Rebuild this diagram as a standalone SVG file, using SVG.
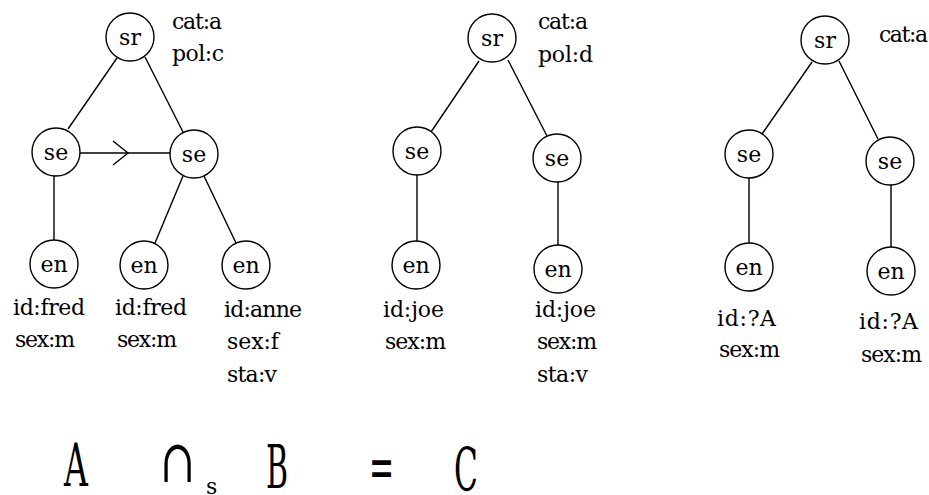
<svg xmlns="http://www.w3.org/2000/svg" width="929" height="495" viewBox="0 0 929 495">
<style>
.n{fill:#fff;stroke:#000;stroke-width:1.4}
.t{font-family:'DejaVu Serif','Liberation Serif',serif;font-size:22px;fill:#000}
.c{text-anchor:middle}
.e{stroke:#000;stroke-width:1.4;fill:none}
.big{font-family:'DejaVu Serif','Liberation Serif',serif;font-size:60px;fill:#000}
</style>
<defs>
<marker id="chev" viewBox="0 0 20 30" refX="16" refY="15" markerWidth="20" markerHeight="30" markerUnits="userSpaceOnUse" orient="auto">
<path d="M1,3 L16,15 L1,27" fill="none" stroke="#000" stroke-width="1.4"/>
</marker>
</defs>
<rect width="929" height="495" fill="#fff"/>
<g id="connectors">
<line class="e" x1="117" y1="58" x2="68" y2="129"/>
<line class="e" x1="145" y1="57" x2="183" y2="132"/>
<line class="e" x1="54" y1="176" x2="54" y2="240"/>
<line class="e" x1="183" y1="176" x2="155" y2="243"/>
<line class="e" x1="204" y1="176" x2="236" y2="243"/>
<polyline class="e" points="80,153 128,153 170,153" marker-mid="url(#chev)"/>
<line class="e" x1="479" y1="61" x2="431" y2="132"/>
<line class="e" x1="508" y1="60" x2="547" y2="136"/>
<line class="e" x1="417" y1="175" x2="417" y2="241"/>
<line class="e" x1="558" y1="182" x2="558" y2="245"/>
<line class="e" x1="812" y1="62" x2="762" y2="134"/>
<line class="e" x1="839" y1="61" x2="878" y2="139"/>
<line class="e" x1="749" y1="178" x2="749" y2="243"/>
<line class="e" x1="891" y1="185" x2="891" y2="247"/>
</g>
<g id="A-sr"><circle class="n" cx="130" cy="37" r="24"/><text class="t c" x="130" y="45">sr</text></g>
<g id="A-se1"><circle class="n" cx="56" cy="152" r="24"/><text class="t c" x="56" y="160">se</text></g>
<g id="A-se2"><circle class="n" cx="194" cy="154" r="24"/><text class="t c" x="194" y="162">se</text></g>
<g id="A-en1"><circle class="n" cx="54" cy="264" r="24"/><text class="t c" x="54" y="272">en</text></g>
<g id="A-en2"><circle class="n" cx="144" cy="265" r="24"/><text class="t c" x="144" y="273">en</text></g>
<g id="A-en3"><circle class="n" cx="246" cy="265" r="24"/><text class="t c" x="246" y="273">en</text></g>
<g id="B-sr"><circle class="n" cx="492" cy="38" r="24"/><text class="t c" x="492" y="46">sr</text></g>
<g id="B-se1"><circle class="n" cx="417" cy="151" r="24"/><text class="t c" x="417" y="159">se</text></g>
<g id="B-se2"><circle class="n" cx="557" cy="158" r="24"/><text class="t c" x="557" y="166">se</text></g>
<g id="B-en1"><circle class="n" cx="416" cy="265" r="24"/><text class="t c" x="416" y="273">en</text></g>
<g id="B-en2"><circle class="n" cx="558" cy="269" r="24"/><text class="t c" x="558" y="277">en</text></g>
<g id="C-sr"><circle class="n" cx="825" cy="40" r="24"/><text class="t c" x="825" y="48">sr</text></g>
<g id="C-se1"><circle class="n" cx="749" cy="154" r="24"/><text class="t c" x="749" y="162">se</text></g>
<g id="C-se2"><circle class="n" cx="890" cy="161" r="24"/><text class="t c" x="890" y="169">se</text></g>
<g id="C-en1"><circle class="n" cx="749" cy="267" r="24"/><text class="t c" x="749" y="275">en</text></g>
<g id="C-en2"><circle class="n" cx="891" cy="271" r="24"/><text class="t c" x="891" y="279">en</text></g>
<g id="labels">
<text class="t" x="172" y="29" textLength="50">cat:a</text>
<text class="t" x="172" y="61" textLength="52">pol:c</text>
<text class="t" x="13" y="315" textLength="72">id:fred</text>
<text class="t" x="15" y="347" textLength="60">sex:m</text>
<text class="t" x="115" y="315" textLength="72">id:fred</text>
<text class="t" x="117" y="347" textLength="60">sex:m</text>
<text class="t" x="224" y="317" textLength="78">id:anne</text>
<text class="t" x="227" y="349" textLength="52">sex:f</text>
<text class="t" x="227" y="382" textLength="50">sta:v</text>
<text class="t" x="538" y="29" textLength="50">cat:a</text>
<text class="t" x="538" y="62" textLength="55">pol:d</text>
<text class="t" x="383" y="317" textLength="61">id:joe</text>
<text class="t" x="385" y="349" textLength="61">sex:m</text>
<text class="t" x="535" y="317" textLength="61">id:joe</text>
<text class="t" x="537" y="349" textLength="60">sex:m</text>
<text class="t" x="537" y="382" textLength="51">sta:v</text>
<text class="t" x="879" y="42" textLength="49">cat:a</text>
<text class="t" x="717" y="326" textLength="59">id:?A</text>
<text class="t" x="719" y="357" textLength="61">sex:m</text>
<text class="t" x="859" y="329" textLength="59">id:?A</text>
<text class="t" x="861" y="362" textLength="61">sex:m</text>
</g>
<g id="equation">
<text class="big" transform="translate(64 486) scale(0.55 1)">A</text>
<text class="big" transform="translate(160 482) scale(0.7 1)">∩</text>
<text class="t" x="206" y="494">s</text>
<text class="big" transform="translate(266 488) scale(0.5 1)">B</text>
<text class="big" transform="translate(369 488) scale(0.5 1)">=</text>
<text class="big" transform="translate(454 491) scale(0.52 1)">C</text>
</g>
</svg>
